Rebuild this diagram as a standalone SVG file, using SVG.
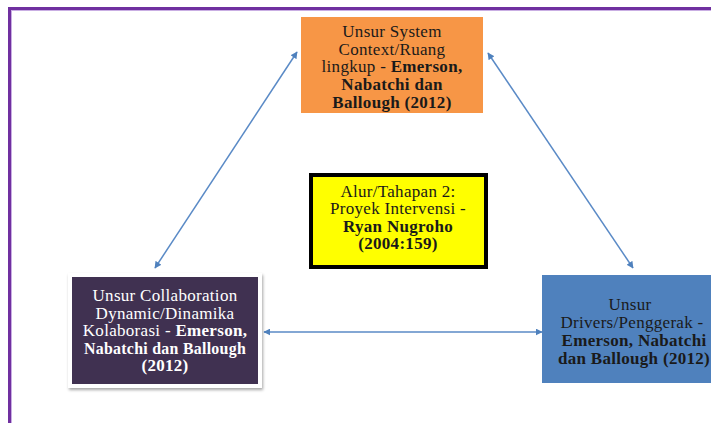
<svg xmlns="http://www.w3.org/2000/svg" width="711" height="423" viewBox="0 0 711 423">
<style>
  text { font-family: "Liberation Serif", "Times New Roman", serif; font-size: 17px; text-anchor: middle; letter-spacing: 0.3px; }
  .b { font-weight: bold; }
  .dark { fill: #1a1a1a; }
  .white { fill: #ffffff; }
  .conn { stroke: #5A8AC6; stroke-width: 1.5; fill: none; marker-start: url(#ah); marker-end: url(#ah); }
</style>
<defs>
  <marker id="ah" viewBox="0 0 10 10" refX="9" refY="5" markerWidth="7" markerHeight="7" orient="auto-start-reverse" markerUnits="userSpaceOnUse">
    <path d="M0,0 L10,5 L0,10 z" fill="#4F81BD"/>
  </marker>
  <filter id="sh" x="-10%" y="-10%" width="125%" height="130%">
    <feDropShadow dx="1" dy="2" stdDeviation="1.5" flood-color="#000" flood-opacity="0.35"/>
  </filter>
</defs>
<rect x="0" y="0" width="711" height="423" fill="#ffffff"/>
<g id="frame">
  <rect x="9.5" y="8.5" width="720" height="430" fill="none" stroke="#7030A0" stroke-width="3"/>
  <rect x="11.5" y="10.5" width="720" height="430" fill="none" stroke="#C9AEE3" stroke-width="1"/>
</g>
<g id="connectors">
  <line class="conn" x1="297" y1="52" x2="155" y2="268"/>
  <line class="conn" x1="488" y1="53" x2="633" y2="268"/>
  <line class="conn" x1="264" y1="332" x2="542" y2="332"/>
</g>
<g id="node-context">
  <rect x="301" y="17" width="182" height="96" fill="#F79646"/>
  <text class="dark" x="392" y="37">Unsur System</text>
  <text class="dark" x="392" y="54.7">Context/Ruang</text>
  <text class="dark" x="392" y="72.4">lingkup - <tspan class="b">Emerson,</tspan></text>
  <text class="dark b" x="392" y="90.1">Nabatchi dan</text>
  <text class="dark b" x="392" y="107.8">Ballough (2012)</text>
</g>
<g id="node-intervensi">
  <rect x="309" y="173" width="179" height="96" fill="#D8D8D8"/>
  <rect x="311" y="175" width="175" height="92" fill="#FFFF00" stroke="#000000" stroke-width="4"/>
  <text class="dark" x="398" y="196.5">Alur/Tahapan 2:</text>
  <text class="dark" x="398" y="214">Proyek Intervensi -</text>
  <text class="dark b" x="398" y="231.5">Ryan Nugroho</text>
  <text class="dark b" x="398" y="249">(2004:159)</text>
</g>
<g id="node-dynamic">
  <rect x="68" y="273" width="194" height="115" fill="#ffffff" filter="url(#sh)"/>
  <rect x="72" y="277" width="186" height="107" fill="#403151"/>
  <text class="white" x="165" y="301">Unsur Collaboration</text>
  <text class="white" x="165" y="318.5">Dynamic/Dinamika</text>
  <text class="white" x="165" y="336">Kolaborasi - <tspan class="b">Emerson,</tspan></text>
  <text class="white b" x="165" y="353.5" textLength="162" lengthAdjust="spacingAndGlyphs">Nabatchi dan Ballough</text>
  <text class="white b" x="165" y="371">(2012)</text>
</g>
<g id="node-drivers">
  <rect x="542" y="275" width="180" height="108" fill="#4F81BD"/>
  <text class="dark" x="630" y="310">Unsur</text>
  <text class="dark" x="632" y="328">Drivers/Penggerak -</text>
  <text class="dark b" x="634" y="346">Emerson, Nabatchi</text>
  <text class="dark b" x="634" y="363.5">dan Ballough (2012)</text>
</g>
</svg>
